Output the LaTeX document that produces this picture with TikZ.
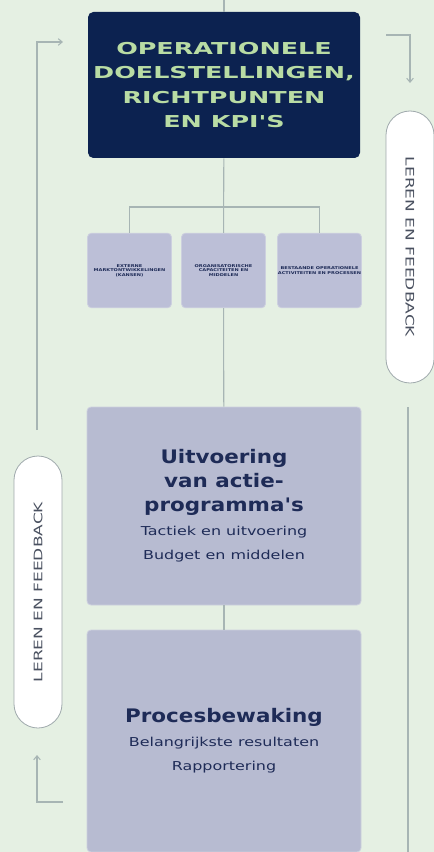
\documentclass[tikz,border=0pt]{standalone}
\usepackage{fontspec}
\setmainfont{DejaVu Sans}
\newfontfamily\widefont[FakeStretch=1.3]{DejaVu Sans}
\newfontfamily\titlewide[FakeStretch=1.55]{DejaVu Sans}
\newfontfamily\headwide[FakeStretch=1.15]{DejaVu Sans}
\newfontfamily\pillwide[FakeStretch=1.45]{DejaVu Sans}
\usetikzlibrary{arrows.meta, positioning, calc}

\definecolor{bgmint}{HTML}{E5F0E3}
\definecolor{navybox}{HTML}{0C2250}
\definecolor{palegreen}{HTML}{B9DCA4}
\definecolor{lavsmall}{HTML}{BCBFD7}
\definecolor{lavbig}{HTML}{B7BBD1}
\definecolor{lavedge}{HTML}{CDD0DF}
\definecolor{linegray}{HTML}{A7B5B4}
\definecolor{textnavy}{HTML}{1E2B57}
\definecolor{pilledge}{HTML}{9FA9AC}
\definecolor{pilltext}{HTML}{4A5160}

\newcommand\headfont{\headwide\bfseries\fontsize{14}{18}\selectfont}
\newcommand\subfont{\widefont\mdseries\fontsize{9.2}{18}\selectfont}

\tikzset{
  topbox/.style={fill=navybox, rounded corners=4pt, minimum width=204pt, minimum height=109.5pt,
    text=palegreen, align=center, inner sep=0pt, font=\titlewide\bfseries\fontsize{12.3}{18.2}\selectfont},
  smallbox/.style={fill=lavsmall, draw=lavedge, line width=0.6pt, rounded corners=3pt,
    minimum width=63pt, minimum height=56pt, text=textnavy, align=center, inner sep=0pt,
    font=\widefont\bfseries\fontsize{2.9}{3.4}\selectfont},
  bigbox/.style={fill=lavbig, draw=lavedge, line width=0.6pt, rounded corners=3pt,
    minimum width=205.5pt, text=textnavy, align=center, inner sep=0pt, font=\headfont},
  pill/.style={fill=white, draw=pilledge, line width=0.6pt, rounded corners=18pt,
    minimum width=204pt, minimum height=36pt, inner sep=0pt,
    text=pilltext, font=\pillwide\fontsize{8.8}{10}\selectfont},
  link/.style={draw=linegray, line width=0.8pt},
  fb/.style={link, -{Straight Barb[length=3pt, width=5pt]}}
}

\begin{document}
\begin{tikzpicture}[x=0.75pt, y=-0.75pt]
\fill[bgmint] (0,0) rectangle (434,852);
\useasboundingbox (0,0) rectangle (434,852);

% main column
\node[topbox] (obj) at (224,85) {OPERATIONELE\\DOELSTELLINGEN,\\RICHTPUNTEN\\EN KPI'S};
\node[smallbox] (ext) at (129.5,270.5) {EXTERNE\\MARKTONTWIKKELINGEN\\(KANSEN)};
\node[smallbox] (org) at (223.5,270.5) {ORGANISATORISCHE\\CAPACITEITEN EN\\MIDDELEN};
\node[smallbox] (act) at (319.5,270.5) {BESTAANDE OPERATIONELE\\ACTIVITEITEN EN PROCESSEN};
\node[bigbox, minimum height=148.5pt] (prog) at (224,506)
  {Uitvoering\\van actie-\\programma's\\\subfont Tactiek en uitvoering\\\subfont Budget en middelen};
\node[bigbox, minimum height=166.5pt] (mon) at (224,741)
  {Procesbewaking\\\subfont Belangrijkste resultaten\\\subfont Rapportering};

% feedback pills
\node[pill, rotate=90] (leftfb) at (38,592) {LEREN EN FEEDBACK};
\node[pill, rotate=-90] (rightfb) at (410,247) {LEREN EN FEEDBACK};

% connectors
\coordinate (top) at (224,0);
\coordinate (bar) at (224,207);
\draw[link] (top) -- (obj);
\draw[link] (obj) -- (org);
\draw[link] (ext.north) |- (bar) -| (act.north);
\draw[link] (org) -- (prog);
\draw[link] (prog) -- (mon);

% feedback loop
\coordinate (lstart) at (37,430);
\coordinate (lin) at (63,42);
\coordinate (lout) at (63,802);
\coordinate (lrise) at (37,755);
\coordinate (rout) at (386,35);
\coordinate (rdown) at (410,83);
\coordinate (rstart) at (408,407);
\coordinate (rend) at (408,852);
\draw[fb] (lstart) |- (lin);
\draw[fb] (lout) -| (lrise);
\draw[fb] (rout) -| (rdown);
\draw[link] (rstart) -- (rend);
\end{tikzpicture}
\end{document}
